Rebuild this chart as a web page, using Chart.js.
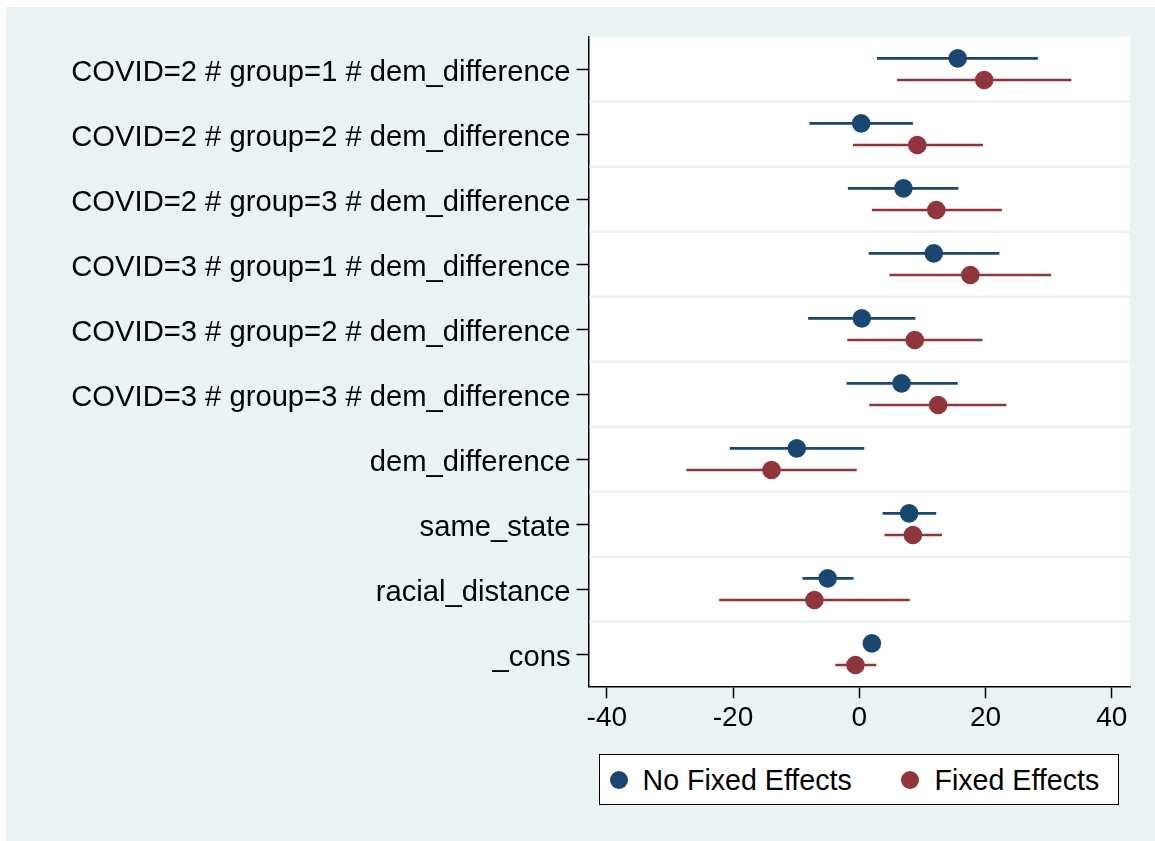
<!DOCTYPE html>
<html>
<head>
<meta charset="utf-8">
<script src="https://cdn.jsdelivr.net/npm/chart.js@4/dist/chart.umd.min.js"></script>
<style>
  html, body { margin: 0; padding: 0; background: #ffffff; width: 1155px; height: 841px; overflow: hidden; }
  #bg { position: absolute; left: 6px; top: 7px; width: 1149px; height: 834px; background: #eaf2f3; }
  #c { position: absolute; left: 0; top: 0; }
  #legend { position: absolute; left: 599px; top: 754px; width: 518px; height: 49px;
            background: #ffffff; border: 1.5px solid #000; font-family: "Liberation Sans", Arial, Helvetica, sans-serif;
            font-size: 28.6px; color: #000; }
  .dot { position: absolute; width: 18.6px; height: 18.6px; border-radius: 50%; top: 15.5px; }
  .lbl { position: absolute; top: 9px; line-height: 33px; white-space: nowrap; }
</style>
</head>
<body>
<div id="bg"></div>
<canvas id="c" width="1155" height="841"></canvas>
<div id="legend"></div>
<script>
// ---- data ----
const categories = [
  'COVID=2 # group=1 # dem_difference',
  'COVID=2 # group=2 # dem_difference',
  'COVID=2 # group=3 # dem_difference',
  'COVID=3 # group=1 # dem_difference',
  'COVID=3 # group=2 # dem_difference',
  'COVID=3 # group=3 # dem_difference',
  'dem_difference',
  'same_state',
  'racial_distance',
  '_cons'
];
const seriesNames = ['No Fixed Effects', 'Fixed Effects'];
const noFE     = [15.6,  0.3,  7.0, 11.8,  0.4,  6.7,  -9.9,  7.9, -5.0,  2.0];
const noFELow  = [ 2.8, -7.9, -1.8,  1.5, -8.1, -2.0, -20.5,  3.7, -9.0,  1.6];
const noFEHigh = [28.3,  8.5, 15.7, 22.2,  8.9, 15.6,   0.8, 12.2, -0.9,  2.4];
const fe       = [19.8,  9.2, 12.2, 17.6,  8.8, 12.5, -13.9,  8.5, -7.1, -0.6];
const feLow    = [ 6.0, -1.0,  2.0,  4.8, -1.9,  1.6, -27.4,  4.0,-22.2, -3.8];
const feHigh   = [33.6, 19.6, 22.6, 30.4, 19.5, 23.3,  -0.4, 13.1,  8.0,  2.7];
const xTicks   = [-40, -20, 0, 20, 40];

// ---- styling ----
const FONT = '"Liberation Sans", Arial, Helvetica, sans-serif';
const colors = ['#1a476f', '#90353b'];
const offsets = [-1/6, 1/6];

function pointData(vals, off) {
  return vals.map((v, i) => ({ x: v, y: i + 1 + off }));
}
function ciData(lo, hi, off) {
  const out = [];
  lo.forEach((l, i) => {
    out.push({ x: l, y: i + 1 + off });
    out.push({ x: hi[i], y: i + 1 + off });
    out.push({ x: hi[i], y: null });
  });
  return out;
}

const estimates = [noFE, fe];
const lows = [noFELow, feLow];
const highs = [noFEHigh, feHigh];

const datasets = [];
seriesNames.forEach((name, s) => {
  datasets.push({
    label: name,
    data: pointData(estimates[s], offsets[s]),
    backgroundColor: colors[s],
    borderColor: colors[s],
    borderWidth: 0,
    pointRadius: 9.3,
    pointHoverRadius: 9.3,
    showLine: false,
    order: 0
  });
  datasets.push({
    label: name + ' CI',
    data: ciData(lows[s], highs[s], offsets[s]),
    borderColor: colors[s],
    borderWidth: 2.6,
    pointRadius: 0,
    showLine: true,
    spanGaps: false,
    fill: false,
    order: 1
  });
});

const plotBackground = {
  id: 'plotBackground',
  beforeDraw(chart) {
    const { ctx, chartArea: a } = chart;
    ctx.save();
    ctx.fillStyle = '#ffffff';
    ctx.fillRect(a.left, a.top, a.right - a.left, a.bottom - a.top);
    ctx.restore();
  }
};
const rowSeparators = {
  id: 'rowSeparators',
  beforeDatasetsDraw(chart) {
    const { ctx, chartArea: a, scales: { y } } = chart;
    ctx.save();
    ctx.strokeStyle = '#eaf2f3';
    ctx.lineWidth = 2.5;
    for (let i = 1; i < categories.length; i++) {
      const py = y.getPixelForValue(i + 0.5);
      ctx.beginPath();
      ctx.moveTo(a.left + 1, py);
      ctx.lineTo(a.right, py);
      ctx.stroke();
    }
    ctx.restore();
  }
};

new Chart(document.getElementById('c'), {
  type: 'scatter',
  data: { datasets },
  plugins: [plotBackground, rowSeparators],
  options: {
    responsive: false,
    animation: false,
    events: [],
    devicePixelRatio: 1,
    layout: { padding: { left: 0, top: 36.7, right: 25, bottom: 0 } },
    plugins: { legend: { display: false }, tooltip: { enabled: false } },
    scales: {
      x: {
        type: 'linear',
        min: -42.9,
        max: 42.9,
        afterBuildTicks: s => { s.ticks = xTicks.map(v => ({ value: v })); },
        afterFit: s => { s.height = 841 - 686.7; },
        grid: { drawOnChartArea: false, drawTicks: true, tickLength: 11.5, tickColor: '#000', tickWidth: 1.5 },
        border: { display: true, color: '#000', width: 1.5 },
        ticks: { color: '#000', font: { family: FONT, size: 28 }, padding: 3, maxRotation: 0, autoSkip: false }
      },
      y: {
        type: 'linear',
        reverse: true,
        min: 0.5,
        max: 10.5,
        afterBuildTicks: s => { s.ticks = categories.map((c, i) => ({ value: i + 1 })); },
        afterFit: s => { s.width = 588.5; },
        grid: { drawOnChartArea: false, drawTicks: true, tickLength: 12, tickColor: '#000', tickWidth: 1.5 },
        border: { display: true, color: '#000', width: 1.5 },
        ticks: { color: '#000', font: { family: FONT, size: 29.2 }, padding: 6, autoSkip: false, labelOffset: 3.5,
                 callback: v => categories[Math.round(v) - 1] }
      }
    }
  }
});

// legend (HTML, built from series names and colours)
const legend = document.getElementById('legend');
const itemPos = [{ dot: 9.5, text: 42.5 }, { dot: 300.5, text: 334.5 }];
seriesNames.forEach((name, s) => {
  const d = document.createElement('span');
  d.className = 'dot';
  d.style.left = itemPos[s].dot + 'px';
  d.style.background = colors[s];
  legend.appendChild(d);
  const t = document.createElement('span');
  t.className = 'lbl';
  t.style.left = itemPos[s].text + 'px';
  t.textContent = name;
  legend.appendChild(t);
});
</script>
</body>
</html>
